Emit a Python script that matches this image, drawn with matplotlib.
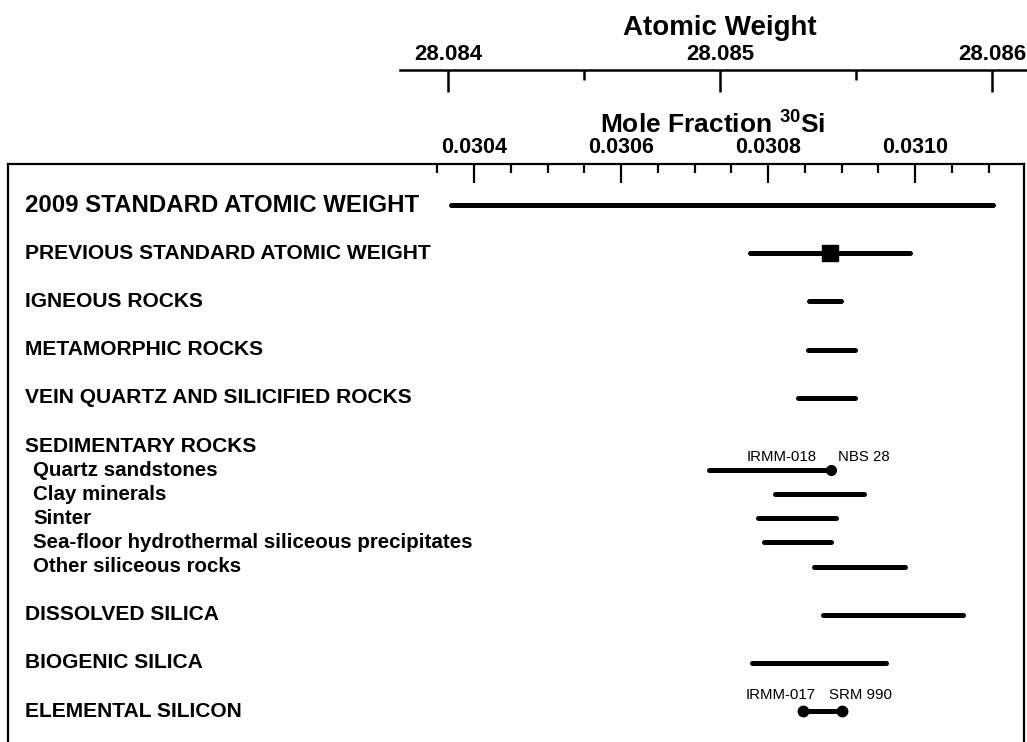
import matplotlib
matplotlib.use("Agg")
import matplotlib.pyplot as plt
from matplotlib.ticker import FixedLocator, FormatStrFormatter, NullFormatter
import matplotlib.transforms as mtransforms

plt.rcParams['font.family'] = ['Liberation Sans', 'DejaVu Sans']
plt.rcParams['mathtext.fontset'] = 'custom'
plt.rcParams['mathtext.rm'] = 'Liberation Sans:bold'
plt.rcParams['mathtext.bf'] = 'Liberation Sans:bold'

# ---- data: ranges of the 30Si mole fraction ----
categories = [
    "2009 STANDARD ATOMIC WEIGHT",
    "PREVIOUS STANDARD ATOMIC WEIGHT",
    "IGNEOUS ROCKS",
    "METAMORPHIC ROCKS",
    "VEIN QUARTZ AND SILICIFIED ROCKS",
    "SEDIMENTARY ROCKS",
    "Quartz sandstones",
    "Clay minerals",
    "Sinter",
    "Sea-floor hydrothermal siliceous precipitates",
    "Other siliceous rocks",
    "DISSOLVED SILICA",
    "BIOGENIC SILICA",
    "ELEMENTAL SILICON",
]
is_sub = [False, False, False, False, False, False,
          True, True, True, True, True,
          False, False, False]
x_low = [0.030369, 0.030775, 0.030855, 0.030854, 0.030841, None,
         0.030719, 0.030809, 0.030786, 0.030795, 0.030863,
         0.030874, 0.030778, 0.030847]
x_high = [0.031106, 0.030993, 0.030899, 0.030918, 0.030918, None,
          0.030886, 0.030930, 0.030892, 0.030886, 0.030986,
          0.031065, 0.030960, 0.030901]

previous_value = 0.030884          # previous standard atomic weight (square)
nbs28 = 0.030886                   # NBS 28 / IRMM-018 reference
irmm017 = 0.030847                 # IRMM-017
srm990 = 0.030901                  # SRM 990

mf_major = [0.0304, 0.0306, 0.0308, 0.0310]
mf_minor = [0.03035, 0.03045, 0.03050, 0.03055, 0.03065, 0.03070, 0.03075,
            0.03085, 0.03090, 0.03095, 0.03105, 0.03110]
aw_major = [28.084, 28.085, 28.086]
aw_minor = [28.0845, 28.0855]

# ---- figure ----
W, H = 1027, 742
fig = plt.figure(figsize=(W / 100, H / 100), dpi=100)


def fx(px):
    return px / W


def fy(py):
    return 1 - py / H


# main framed panel
ax = fig.add_axes([fx(8), 0.0, fx(1024) - fx(8), fy(164)])
ax.set_xlim(0.029766, 0.031148)

# row layout: headline categories one unit apart, sub-categories half a unit
rows = []
pos = 0.0
for i, sub in enumerate(is_sub):
    if i > 0:
        pos += 0.5 if sub else 1.0
    rows.append(pos)
ax.set_ylim(11.14, -0.851)

for sp in ("left", "right", "top"):
    ax.spines[sp].set_linewidth(1.6)
ax.spines["bottom"].set_visible(False)

ax.yaxis.set_visible(False)
ax.xaxis.set_ticks_position("top")
ax.xaxis.set_major_locator(FixedLocator(mf_major))
ax.xaxis.set_minor_locator(FixedLocator(mf_minor))
ax.xaxis.set_major_formatter(FormatStrFormatter("%.4f"))
ax.xaxis.set_minor_formatter(NullFormatter())
ax.tick_params(axis="x", which="major", direction="in", length=14, width=1.6,
               pad=4.5, labelsize=15.5, top=True, bottom=False,
               labeltop=True, labelbottom=False)
ax.tick_params(axis="x", which="minor", direction="in", length=6.5, width=1.6,
               top=True, bottom=False)
for lbl in ax.get_xticklabels():
    lbl.set_fontweight("bold")

trans = mtransforms.blended_transform_factory(ax.transAxes, ax.transData)
lw = 3.6
for i, name in enumerate(categories):
    y = rows[i]
    if i == 0:
        fs = 17.3
    elif is_sub[i]:
        fs = 14.8
    else:
        fs = 15.1
    xoff = 0.0246 if is_sub[i] else 0.0167
    ax.text(xoff, y, name, transform=trans, ha="left", va="center",
            fontsize=fs, fontweight="bold")
    if x_low[i] is not None:
        ax.plot([x_low[i], x_high[i]], [y, y], color="black", lw=lw,
                solid_capstyle="round")

# markers
ax.plot([previous_value], [rows[1]], marker="s", ms=11, color="black",
        linestyle="none")
ax.plot([nbs28], [rows[6]], marker="o", ms=7, color="black", linestyle="none")
ax.plot([irmm017, srm990], [rows[13], rows[13]], marker="o", ms=7.5,
        color="black", linestyle="none")

ann_kw = dict(textcoords="offset points", fontsize=10.8, va="bottom")
ax.annotate("IRMM-018", xy=(nbs28, rows[6]), xytext=(-10.5, 4.5), ha="right", **ann_kw)
ax.annotate("NBS 28", xy=(nbs28, rows[6]), xytext=(4.5, 4.5), ha="left", **ann_kw)
ax.annotate("IRMM-017", xy=(irmm017, rows[13]), xytext=(9.5, 6.5), ha="right", **ann_kw)
ax.annotate("SRM 990", xy=(srm990, rows[13]), xytext=(-10, 6.5), ha="left", **ann_kw)

fig.text(fx(713), fy(125), "Mole Fraction $\\mathregular{^{30}}$Si",
         ha="center", va="center", fontsize=19, fontweight="bold")

# atomic weight scale above the panel
ax2 = fig.add_axes([fx(400), fy(70) - 0.01, fx(1027) - fx(400), 0.01])
ax2.set_xlim(28.083824, 28.086129)
ax2.set_ylim(0, 1)
for sp in ("left", "right", "bottom"):
    ax2.spines[sp].set_visible(False)
ax2.spines["top"].set_linewidth(1.8)
ax2.patch.set_visible(False)
ax2.yaxis.set_visible(False)
ax2.xaxis.set_ticks_position("top")
ax2.xaxis.set_major_locator(FixedLocator(aw_major))
ax2.xaxis.set_minor_locator(FixedLocator(aw_minor))
ax2.xaxis.set_major_formatter(FormatStrFormatter("%.3f"))
ax2.xaxis.set_minor_formatter(NullFormatter())
ax2.tick_params(axis="x", which="major", direction="in", length=16, width=1.8,
                pad=3.5, labelsize=16, top=True, bottom=False,
                labeltop=True, labelbottom=False)
ax2.tick_params(axis="x", which="minor", direction="in", length=7, width=1.8,
                top=True, bottom=False)
for lbl in ax2.get_xticklabels():
    lbl.set_fontweight("bold")

fig.text(fx(720), fy(28), "Atomic Weight", ha="center", va="center",
         fontsize=20, fontweight="bold")

fig.savefig("out.png", dpi=100, facecolor="white")
